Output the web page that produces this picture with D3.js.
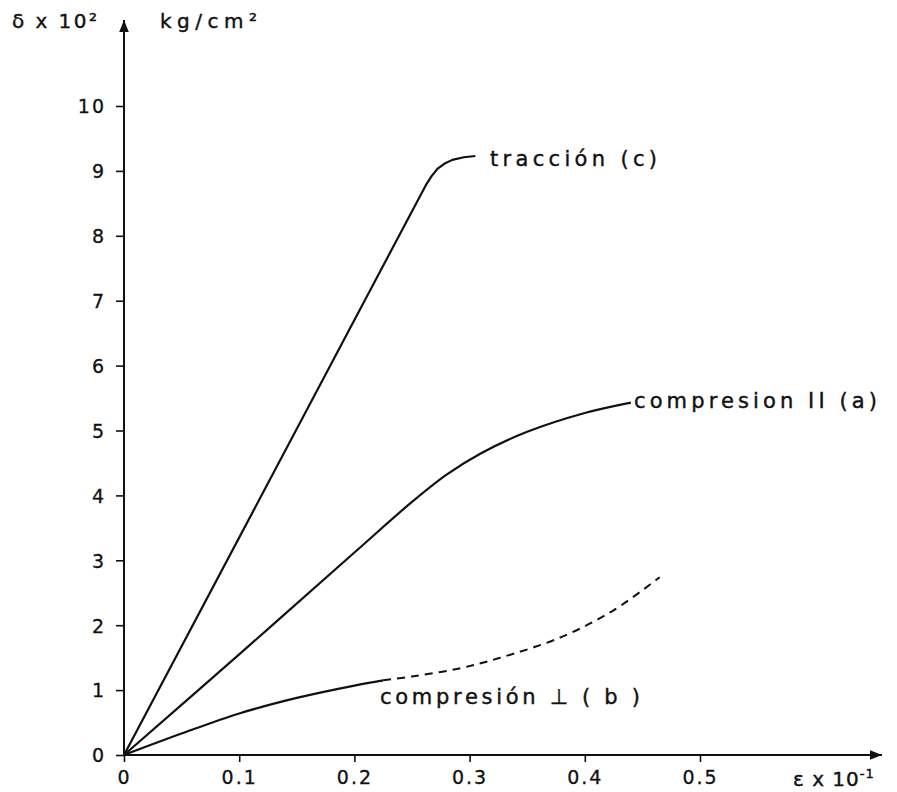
<!DOCTYPE html>
<html>
<head>
<meta charset="utf-8">
<script src="https://cdn.jsdelivr.net/npm/d3@7"></script>
<style>
  body { margin: 0; background: #fff; }
  text { font-family: "DejaVu Sans", sans-serif; fill: #111; }
</style>
</head>
<body>
<svg id="chart" width="897" height="792"></svg>
<script>
// strain (x 10^-1) and stress (x 10^2 kg/cm2)
var xTicks = [0, 0.1, 0.2, 0.3, 0.4, 0.5];
var yTicks = [0, 1, 2, 3, 4, 5, 6, 7, 8, 9, 10];

var traccion = [[0, 0], [0.262, 8.78], [0.267, 8.92], [0.272, 9.03], [0.278, 9.11], [0.285, 9.17],
  [0.295, 9.21], [0.305, 9.23]];
var compParalela = [[0, 0], [0.1, 1.55], [0.2, 3.12], [0.25, 3.9], [0.28, 4.32], [0.31, 4.65],
  [0.35, 4.98], [0.4, 5.27], [0.44, 5.43]];
var compPerpSolid = [[0, 0], [0.05, 0.33], [0.1, 0.64], [0.15, 0.88], [0.2, 1.07], [0.225, 1.15]];
var compPerpDash = [[0.225, 1.15], [0.25, 1.21], [0.29, 1.33], [0.325, 1.49], [0.38, 1.82],
  [0.425, 2.23], [0.465, 2.74]];

var svg = d3.select("#chart");
var x = d3.scaleLinear().domain([0, 0.5]).range([124, 700]);
var y = d3.scaleLinear().domain([0, 10]).range([755, 106]);

var line = d3.line()
  .x(function(d){ return x(d[0]); })
  .y(function(d){ return y(d[1]); })
  .curve(d3.curveCatmullRom.alpha(0.5));
var straight = d3.line()
  .x(function(d){ return x(d[0]); })
  .y(function(d){ return y(d[1]); });

// axes
var xAxis = d3.axisBottom(x).tickValues(xTicks).tickSize(7).tickPadding(9)
  .tickFormat(function(d){ return d === 0 ? "0" : d3.format(".1f")(d); });
var yAxis = d3.axisLeft(y).tickValues(yTicks).tickSize(8).tickPadding(10)
  .tickFormat(d3.format("d"));

var gx = svg.append("g").attr("transform", "translate(0," + y(0) + ")").call(xAxis);
var gy = svg.append("g").attr("transform", "translate(" + x(0) + ",0)").call(yAxis);
[gx, gy].forEach(function(g){
  g.select(".domain").remove();
  g.selectAll(".tick line").attr("stroke", "#111").attr("stroke-width", 1.6);
  g.selectAll(".tick text").style("font-size", "19px").style("letter-spacing", "2px")
    .attr("fill", "#111").attr("stroke", "#111").attr("stroke-width", 0.3);
});
gy.selectAll(".tick text").attr("dy", "0.36em");

svg.append("defs").append("marker")
  .attr("id", "arrow").attr("viewBox", "0 0 10 10")
  .attr("refX", 10).attr("refY", 5)
  .attr("markerWidth", 14).attr("markerHeight", 12)
  .attr("markerUnits", "userSpaceOnUse")
  .attr("orient", "auto")
  .append("path").attr("d", "M0,1 L10,5 L0,9 Z").attr("fill", "#111");

svg.append("line").attr("x1", x(0)).attr("y1", y(0)).attr("x2", 882).attr("y2", y(0))
  .attr("stroke", "#111").attr("stroke-width", 2).attr("marker-end", "url(#arrow)");
svg.append("line").attr("x1", x(0)).attr("y1", y(0)).attr("x2", x(0)).attr("y2", 20)
  .attr("stroke", "#111").attr("stroke-width", 2).attr("marker-end", "url(#arrow)");

// curves
svg.append("path").datum(traccion).attr("d", straight)
  .attr("fill", "none").attr("stroke", "#111").attr("stroke-width", 2.2)
  .attr("stroke-linejoin", "round");
[compParalela, compPerpSolid].forEach(function(s){
  svg.append("path").datum(s).attr("d", line)
    .attr("fill", "none").attr("stroke", "#111").attr("stroke-width", 2.2);
});
svg.append("path").datum(compPerpDash).attr("d", line)
  .attr("fill", "none").attr("stroke", "#111").attr("stroke-width", 2)
  .attr("stroke-dasharray", "8,6");

// labels
function label(t, px, py, w, size) {
  return svg.append("text").attr("x", px).attr("y", py)
    .attr("textLength", w).attr("lengthAdjust", "spacing")
    .style("font-size", (size || 21) + "px")
    .attr("stroke", "#111").attr("stroke-width", 0.4)
    .text(t);
}
label("tracción (c)", 490, 166, 167);
label("compresion II (a)", 634, 408, 243);
label("compresión ⊥ ( b )", 380, 704, 260);
label("δ x 10²", 12, 28, 85, 20);
label("kg/cm²", 160, 28, 97, 20);

svg.append("text").attr("x", 793).attr("y", 786).style("font-size", "20px")
  .attr("stroke", "#111").attr("stroke-width", 0.4).style("letter-spacing", "1px")
  .html("ε x 10<tspan dy='-8' font-size='13'>-1</tspan>");
</script>
</body>
</html>
